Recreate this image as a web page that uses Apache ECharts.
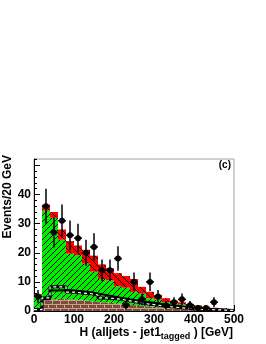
<!DOCTYPE html>
<html><head><meta charset="utf-8">
<script src="https://cdn.jsdelivr.net/npm/echarts@6/dist/echarts.min.js"></script>
<style>html,body{margin:0;padding:0;background:#fff}#c{width:266px;height:344px}</style>
</head><body><div id="c"></div>
<script>
// ---- data ----
const binLow = [0,20,40,60,80,100,120,140,160,180,200,220,240,260,280,300,320,340,360,380,400,420,440,460,480];
const binWidth = 20;
const xTicks = [0,100,200,300,400,500];
const yTicks = [0,10,20,30,40,50];
// stacked background components (bottom to top)
const brownBkg = [0.5,4,4,4.2,4,3.8,3.6,3.3,3,2.8,2.5,2.3,2,1.8,1.5,1.3,1.1,0.9,0.8,0.6,0.5,0.4,0.3,0.2,0.2];
const greenBkg = [5.0,30.5,28,20.3,15.7,15.4,12.7,10.2,8,7.7,6,5.7,4.6,4.2,2.9,2.7,1.9,1.7,1.4,1.2,0.9,0.7,0.5,0.4,0.2];
const redBkg   = [0.3,2,2,3.5,4.3,3.3,4.7,5.5,5,4.2,4.5,4,4.4,2.3,2.2,1.5,1.4,1,0.8,0.6,0.5,0.4,0.3,0.2,0.2];
// overlaid (unstacked) histograms
const solidLine  = [0.5,4,7,7.2,7,6.8,6.5,6,5.5,5,4.5,4,3.6,3.2,2.8,2.4,2,1.7,1.4,1.1,0.9,0.7,0.5,0.4,0.3];
const dashedLine = [0.5,4.5,8.3,8.3,6.5,6.2,6,5.5,4.5,4.3,4,3.5,3,2.5,2.2,1.8,1.5,1.2,1,0.8,0.6,0.5,0.4,0.3,0.2];
// data points
const dataCounts = [5,36,27,31,26,25,20,22,14,14,18,2,10,4,10,5,2,3,4,2,1,1,3,null,null];
const dataErrors = [2.2,6,5.2,5.6,5.1,5,4.5,4.7,3.7,3.7,4.2,1.4,3.2,2,3.2,2.2,1.4,1.7,2,1.4,1,1,1.7,null,null];

// ---- patterns ----
function hatch(bg, dir, size) {
  const c = document.createElement('canvas'); c.width = c.height = size;
  const g = c.getContext('2d');
  g.fillStyle = bg; g.fillRect(0,0,size,size);
  g.strokeStyle = '#000'; g.lineWidth = 1; g.beginPath();
  if (dir === '/') {
    g.moveTo(-1,size+1); g.lineTo(size+1,-1);
    g.moveTo(-1,1); g.lineTo(1,-1);
    g.moveTo(size-1,size+1); g.lineTo(size+1,size-1);
  } else {
    g.moveTo(-1,-1); g.lineTo(size+1,size+1);
    g.moveTo(size-1,-1); g.lineTo(size+1,1);
    g.moveTo(-1,size-1); g.lineTo(1,size+1);
  }
  g.stroke();
  return {image: c, repeat: 'repeat'};
}
function brick() {
  const c = document.createElement('canvas'); c.width = 8; c.height = 8;
  const g = c.getContext('2d');
  g.fillStyle = '#7c4c3a'; g.fillRect(0,0,8,8);
  g.fillStyle = '#c4a090';
  g.fillRect(0,0,8,1); g.fillRect(0,4,8,1);
  g.fillRect(0,0,1,4); g.fillRect(4,4,1,4);
  return {image: c, repeat: 'repeat'};
}
const greenFill = hatch('#00ee00', '/', 6);
const redFill = hatch('#ff0000', '\\', 7);
const brownFill = brick();

const low1 = brownBkg.map(() => 0);
const low2 = brownBkg.slice();
const low3 = brownBkg.map((b,i) => b + greenBkg[i]);

function barSeries(name, lowArr, compArr, fill) {
  return {
    type: 'custom', name, silent: true, z: 2,
    data: binLow.map((x,i) => [x, x + binWidth, lowArr[i], lowArr[i] + compArr[i]]),
    encode: {x: [0,1], y: [2,3]},
    renderItem(params, api) {
      const a = api.coord([api.value(0), api.value(3)]);
      const b = api.coord([api.value(1), api.value(2)]);
      const cs = params.coordSys;
      const r = echarts.graphic.clipRectByRect(
        {x: a[0], y: a[1], width: b[0]-a[0], height: b[1]-a[1]},
        {x: cs.x, y: cs.y, width: cs.width, height: cs.height});
      return r && {type: 'rect', shape: r, style: {fill: fill}};
    }
  };
}
function stepData(arr) {
  const d = binLow.map((x,i) => [x, arr[i]]);
  d.push([binLow[binLow.length-1] + binWidth, arr[arr.length-1]]);
  return d;
}

const labelFont = {color:'#000', fontFamily:'Liberation Sans', fontWeight:'bold', fontSize:12};
const chart = echarts.init(document.getElementById('c'), null, {renderer:'canvas'});
chart.setOption({
  animation: false,
  grid: {left:34, right:32, top:159, bottom:33, show:true, borderColor:'#a0a0a0', borderWidth:1, backgroundColor:'transparent'},
  xAxis: {
    type:'value', min:0, max:500, interval:100,
    axisLine:{lineStyle:{color:'#000', width:1}},
    axisTick:{inside:true, length:6, lineStyle:{color:'#000'}},
    minorTick:{show:true, splitNumber:5, length:3, lineStyle:{color:'#000'}},
    axisLabel:Object.assign({margin:3, customValues: xTicks}, labelFont),
    splitLine:{show:false}
  },
  yAxis: {
    type:'value', min:0, max:52.2, interval:10,
    axisLine:{show:true, lineStyle:{color:'#000', width:1}},
    axisTick:{show:true, inside:true, length:6, lineStyle:{color:'#000'}, customValues: yTicks},
    minorTick:{show:true, splitNumber:5, length:3, lineStyle:{color:'#000'}},
    axisLabel:Object.assign({margin:3, customValues: yTicks, showMaxLabel:false}, labelFont),
    splitLine:{show:false}
  },
  series: [
    barSeries('brown', low1, brownBkg, brownFill),
    barSeries('green', low2, greenBkg, greenFill),
    barSeries('red', low3, redBkg, redFill),
    {type:'line', step:'end', symbol:'none', data: stepData(solidLine), z:3, silent:true,
     lineStyle:{color:'#000', width:2}},
    {type:'line', step:'end', symbol:'none', data: stepData(dashedLine), z:3, silent:true,
     lineStyle:{color:'#000', width:3}},
    {type:'line', step:'end', symbol:'none', data: stepData(dashedLine), z:4, silent:true,
     lineStyle:{color:'#fff', width:1.2, type:[3,3]}},
    {type:'custom', z:5, silent:true,
     data: binLow.map((x,i) => [x + binWidth/2, dataCounts[i], dataErrors[i]]).filter(d => d[1] != null),
     encode:{x:0, y:1},
     renderItem(params, api) {
       const x = api.value(0), v = api.value(1), e = api.value(2);
       const c = api.coord([x, v]);
       const t = api.coord([x, v + e]);
       const b = api.coord([x, Math.max(v - e, 0)]);
       const l = api.coord([x - binWidth/2, v]);
       const r = api.coord([x + binWidth/2, v]);
       return {type:'group', children:[
         {type:'line', shape:{x1:c[0], y1:t[1], x2:c[0], y2:b[1]}, style:{stroke:'#000', lineWidth:1.5}},
         {type:'line', shape:{x1:l[0], y1:c[1], x2:r[0], y2:c[1]}, style:{stroke:'#000', lineWidth:1.5}},
         {type:'circle', shape:{cx:c[0], cy:c[1], r:3}, style:{fill:'#000'}}
       ]};
     }}
  ],
  graphic: [
    {type:'text', left:2, top:155, rotation: Math.PI/2, originX:0, originY:0,
     style:{text:'Events/20 GeV', fill:'#000', font:'bold 12px "Liberation Sans"', x:0, y:0}},
    {type:'text', right:33, top:319,
     style:{text:'{m|H (alljets - jet1}{s|tagged}{m| ) [GeV]}', fill:'#000',
       rich:{m:{fontFamily:'Liberation Sans', fontWeight:'bold', fontSize:12, lineHeight:14, verticalAlign:'top'},
             s:{fontFamily:'Liberation Sans', fontWeight:'bold', fontSize:9, lineHeight:9, verticalAlign:'bottom', padding:[13,0,0,0]}}}},
    {type:'text', right:35, top:160,
     style:{text:'(c)', fill:'#000', font:'bold 10px "Liberation Sans"'}}
  ]
});
</script></body></html>
